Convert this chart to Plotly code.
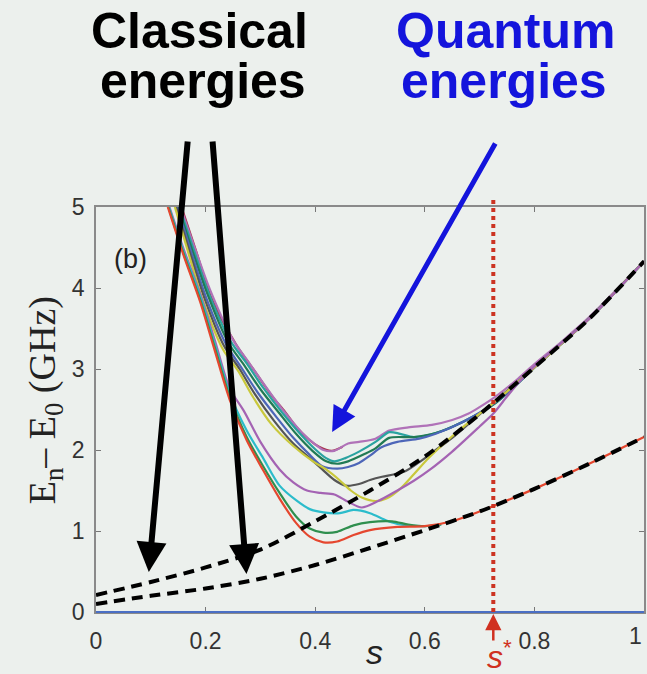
import plotly.graph_objects as go

# ---------------- data ----------------
s_cl = [0, 0.1, 0.2, 0.3, 0.4, 0.5, 0.6, 0.7, 0.8, 0.9, 1.0]
e_cl_low = [0.10, 0.20, 0.29, 0.41, 0.58, 0.79, 1.01, 1.24, 1.52, 1.83, 2.16]
e_cl_up = [0.21, 0.37, 0.55, 0.77, 1.12, 1.50, 1.92, 2.44, 3.02, 3.62, 4.33]

s_red = [0.131, 0.16, 0.19, 0.217, 0.244, 0.275, 0.305, 0.335, 0.365, 0.39, 0.415, 0.44, 0.47, 0.50, 0.55, 0.60, 0.65, 0.70, 0.80, 0.90, 1.0]
e_red = [5.0, 4.4, 3.83, 3.22, 2.62, 2.12, 1.75, 1.40, 1.10, 0.93, 0.86, 0.87, 0.95, 1.01, 1.05, 1.06, 1.12, 1.24, 1.52, 1.83, 2.16]

s_grn = [0.132, 0.16, 0.19, 0.217, 0.244, 0.275, 0.305, 0.335, 0.365, 0.39, 0.415, 0.44, 0.47, 0.50, 0.54, 0.57, 0.60, 0.63]
e_grn = [5.0, 4.42, 3.86, 3.26, 2.66, 2.16, 1.80, 1.47, 1.18, 1.03, 0.98, 0.99, 1.07, 1.11, 1.12, 1.08, 1.06, 1.08]

s_cyn = [0.133, 0.16, 0.19, 0.217, 0.244, 0.275, 0.305, 0.335, 0.365, 0.39, 0.415, 0.445, 0.47, 0.50, 0.53, 0.555, 0.60, 0.63]
e_cyn = [5.0, 4.45, 3.9, 3.3, 2.7, 2.24, 1.9, 1.56, 1.38, 1.27, 1.23, 1.22, 1.26, 1.22, 1.13, 1.08, 1.06, 1.08]

s_pul = [0.134, 0.16, 0.19, 0.217, 0.244, 0.27, 0.30, 0.335, 0.36, 0.385, 0.41, 0.435, 0.46, 0.485, 0.515, 0.55, 0.58, 0.61, 0.65, 0.70, 0.725, 0.75, 0.775, 0.80, 0.9, 1.0]
e_pul = [5.0, 4.48, 3.93, 3.35, 2.76, 2.48, 2.1, 1.76, 1.6, 1.5, 1.47, 1.45, 1.36, 1.29, 1.37, 1.50, 1.62, 1.76, 1.98, 2.29, 2.45, 2.66, 2.86, 3.03, 3.62, 4.33]

s_yel = [0.144, 0.17, 0.195, 0.231, 0.26, 0.286, 0.32, 0.36, 0.396, 0.42, 0.444, 0.465, 0.486, 0.51, 0.53, 0.555, 0.58, 0.607, 0.65, 0.70, 0.725, 0.75, 0.8, 0.9, 1.0]
e_yel = [5.0, 4.4, 3.85, 3.25, 2.97, 2.66, 2.32, 2.05, 1.86, 1.76, 1.63, 1.50, 1.41, 1.37, 1.40, 1.52, 1.70, 1.90, 2.17, 2.45, 2.58, 2.72, 3.02, 3.62, 4.33]

s_gry = [0.146, 0.172, 0.198, 0.234, 0.262, 0.29, 0.325, 0.36, 0.39, 0.413, 0.435, 0.456, 0.48, 0.50, 0.522, 0.545, 0.565, 0.59, 0.62, 0.65, 0.70, 0.8, 0.9, 1.0]
e_gry = [5.0, 4.42, 3.87, 3.28, 3.0, 2.69, 2.36, 2.08, 1.90, 1.76, 1.63, 1.56, 1.58, 1.63, 1.67, 1.70, 1.74, 1.85, 2.0, 2.15, 2.44, 3.02, 3.62, 4.33]

s_blu = [0.148, 0.174, 0.2, 0.237, 0.265, 0.295, 0.33, 0.36, 0.39, 0.413, 0.44, 0.46, 0.48, 0.50, 0.52, 0.55, 0.59, 0.62, 0.67, 0.725, 0.76, 0.8, 0.9, 1.0]
e_blu = [5.0, 4.44, 3.9, 3.31, 3.02, 2.71, 2.40, 2.15, 1.94, 1.80, 1.77, 1.79, 1.84, 1.93, 2.03, 2.10, 2.14, 2.20, 2.35, 2.57, 2.76, 3.02, 3.62, 4.33]

s_dgr = [0.150, 0.176, 0.203, 0.241, 0.27, 0.30, 0.335, 0.365, 0.395, 0.42, 0.44, 0.46, 0.49, 0.51, 0.535, 0.58, 0.62, 0.67, 0.725, 0.76, 0.8, 0.9, 1.0]
e_dgr = [5.0, 4.46, 3.93, 3.33, 3.05, 2.75, 2.45, 2.2, 1.99, 1.86, 1.83, 1.86, 1.95, 2.02, 2.15, 2.16, 2.21, 2.35, 2.56, 2.76, 3.02, 3.62, 4.33]

s_tea = [0.152, 0.178, 0.205, 0.245, 0.275, 0.305, 0.34, 0.37, 0.40, 0.42, 0.435, 0.455, 0.48, 0.51, 0.535, 0.555, 0.58, 0.62, 0.67, 0.725, 0.76, 0.8, 0.9, 1.0]
e_tea = [5.0, 4.48, 3.95, 3.35, 3.07, 2.77, 2.46, 2.22, 2.01, 1.9, 1.86, 1.90, 1.98, 2.10, 2.22, 2.20, 2.16, 2.21, 2.35, 2.56, 2.76, 3.02, 3.62, 4.33]

s_pup = [0.154, 0.18, 0.208, 0.25, 0.28, 0.31, 0.345, 0.375, 0.40, 0.415, 0.435, 0.46, 0.48, 0.51, 0.535, 0.57, 0.613, 0.65, 0.68, 0.70, 0.729, 0.77, 0.8, 0.85, 0.9, 1.0]
e_pup = [5.0, 4.5, 3.98, 3.36, 3.07, 2.78, 2.46, 2.22, 2.07, 2.0, 1.99, 2.08, 2.10, 2.14, 2.24, 2.28, 2.31, 2.37, 2.45, 2.53, 2.66, 2.88, 3.06, 3.34, 3.64, 4.33]

s_mar = [0.156, 0.183, 0.211, 0.256, 0.29, 0.322, 0.345, 0.365, 0.39, 0.407, 0.43, 0.45]
e_mar = [5.0, 4.45, 3.87, 3.3, 2.97, 2.66, 2.47, 2.29, 2.12, 2.04, 1.99, 2.04]

s_star = 0.725
x_ticks = [0, 0.2, 0.4, 0.6, 0.8]
x_ticktext = ["0", "0.2", "0.4", "0.6", "0.8"]
x_last_tick = 1.0
x_last_label = "1"
y_ticks = [0, 1, 2, 3, 4, 5]

# ---------------- figure ----------------
W, H = 647, 674
L, R, T, B = 96, 1, 207, 62
PW, PH = W - L - R, H - T - B


def px(x):
    return (x - L) / PW


def py(y):
    return (H - B - y) / PH


fig = go.Figure()

quantum = [
    (s_mar, e_mar, "#a8344f"),
    (s_pup, e_pup, "#b072b8"),
    (s_tea, e_tea, "#2aa3a0"),
    (s_dgr, e_dgr, "#217a55"),
    (s_blu, e_blu, "#4d66b8"),
    (s_gry, e_gry, "#555555"),
    (s_yel, e_yel, "#c9c83c"),
    (s_pul, e_pul, "#a463b3"),
    (s_cyn, e_cyn, "#2bbccb"),
    (s_grn, e_grn, "#2f8f4e"),
    (s_red, e_red, "#e5472f"),
]
for sx, ey, col in quantum:
    fig.add_trace(go.Scatter(x=sx, y=ey, mode="lines",
                             line=dict(color=col, width=2.2, shape="spline", smoothing=0.8),
                             hoverinfo="skip", showlegend=False))

for ey in (e_cl_low, e_cl_up):
    fig.add_trace(go.Scatter(x=s_cl, y=ey, mode="lines",
                             line=dict(color="black", width=4, dash="11px,7px",
                                       shape="spline", smoothing=0.8),
                             hoverinfo="skip", showlegend=False))

bg = "#ecf0ed"
fig.update_layout(
    width=W, height=H, autosize=False,
    margin=dict(l=L, r=R, t=T, b=B),
    paper_bgcolor=bg, plot_bgcolor=bg,
    showlegend=False,
    font=dict(family="Liberation Sans, Arial, sans-serif", color="#333333"),
)
fig.update_xaxes(range=[0, 1], tickvals=x_ticks + [x_last_tick], ticktext=x_ticktext + [""],
                 ticks="inside", ticklen=5, tickcolor="#777777", tickwidth=1.2,
                 showline=True, linecolor="#8a8a8a", linewidth=1.5, mirror="ticks",
                 showgrid=False, zeroline=False,
                 tickfont=dict(size=23, color="#333333"), ticklabelstandoff=8)
fig.update_yaxes(range=[0, 5], tickvals=y_ticks,
                 ticks="inside", ticklen=5, tickcolor="#777777", tickwidth=1.2,
                 showline=True, linecolor="#8a8a8a", linewidth=1.5, mirror="ticks",
                 showgrid=False, zeroline=False,
                 tickfont=dict(size=23, color="#333333"), ticklabelstandoff=5)

# E0 baseline (blue) and s* marker line
fig.add_shape(type="line", xref="paper", yref="paper", x0=0, x1=1, y0=0, y1=0,
              line=dict(color="#4a6fc4", width=2))
fig.add_shape(type="line", xref="x", yref="paper", x0=s_star, x1=s_star, y0=0, y1=1.025,
              line=dict(color="#cc3322", width=4, dash="dot"))

ann = []
# last x tick label (sits at the right edge, as in the reference)
ann.append(dict(text=x_last_label, x=x_last_tick, y=py(636), xref="x", yref="paper",
                xanchor="right", yanchor="middle", showarrow=False,
                font=dict(size=23, color="#333333")))
# titles
for txt, cx, cy, col in [("Classical", 200, 31, "black"), ("energies", 203, 81, "black"),
                         ("Quantum", 507, 31, "#1414dc"), ("energies", 505, 81, "#1414dc")]:
    ann.append(dict(text="<b>%s</b>" % txt, x=px(cx), y=py(cy), xref="paper", yref="paper",
                    xanchor="center", yanchor="middle", showarrow=False,
                    font=dict(size=50, color=col, family="Liberation Sans, Arial, sans-serif")))
# arrows
for tip, tail, col, w in [((149, 572), (188, 140), "black", 6),
                          ((247, 574), (213, 140), "black", 6),
                          ((333, 432), (497, 142), "#1414dc", 5)]:
    ann.append(dict(x=px(tip[0]), y=py(tip[1]), xref="paper", yref="paper",
                    ax=tail[0] - tip[0], ay=tail[1] - tip[1], axref="pixel", ayref="pixel",
                    showarrow=True, arrowhead=2, arrowsize=1.0, arrowwidth=w,
                    arrowcolor=col, text=""))
# s* arrow & label
ann.append(dict(x=s_star, y=py(614), xref="x", yref="paper", ax=0, ay=28,
                showarrow=True, arrowhead=2, arrowsize=1.3, arrowwidth=2.5,
                arrowcolor="#d03020", text=""))
ann.append(dict(text="<i>s</i><sup>*</sup>", x=px(501), y=py(655), xref="paper", yref="paper",
                xanchor="center", yanchor="middle", showarrow=False,
                font=dict(size=32, color="#d03020")))
# axis titles
ann.append(dict(text="<i>s</i>", x=px(376), y=py(652), xref="paper", yref="paper",
                xanchor="center", yanchor="middle", showarrow=False,
                font=dict(size=34, color="#222222")))
ann.append(dict(text="E<sub>n</sub>\u2013 E<sub>0</sub> (GHz)", x=px(45), y=py(400),
                xref="paper", yref="paper", xanchor="center", yanchor="middle",
                textangle=-90, showarrow=False,
                font=dict(size=38, color="#222222", family="Liberation Serif, Times New Roman, serif")))
# panel label
ann.append(dict(text="(b)", x=px(131), y=py(259), xref="paper", yref="paper",
                xanchor="center", yanchor="middle", showarrow=False,
                font=dict(size=27, color="#222222")))
fig.update_layout(annotations=ann)

fig.write_html("out.html", config={"displayModeBar": False},
               post_script="document.body.style.margin='0';document.body.style.padding='0';"
                           "document.body.style.overflow='hidden';document.body.style.background='%s';" % bg)
